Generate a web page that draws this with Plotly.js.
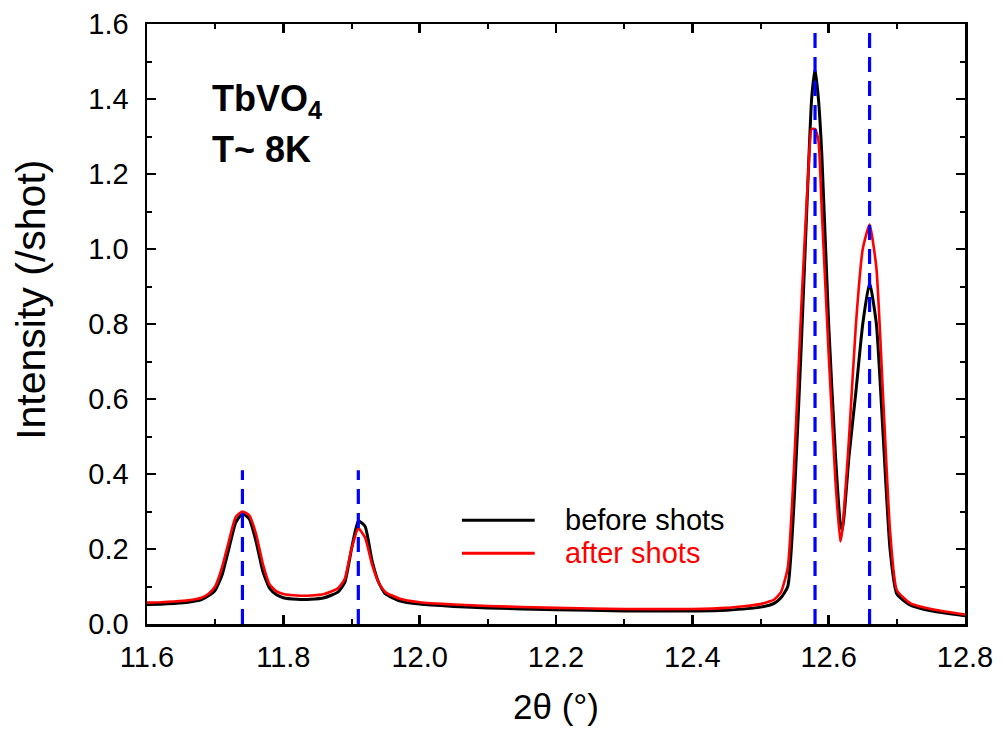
<!DOCTYPE html>
<html>
<head>
<meta charset="utf-8">
<script src="https://cdn.plot.ly/plotly-3.0.1.min.js"></script>
<style>html,body{margin:0;padding:0;background:#fff;}#chart{width:1003px;height:731px;}</style>
</head>
<body>
<div id="chart"></div>
<script>
// 2θ positions (degrees)
const twoTheta = [11.60,11.62,11.64,11.66,11.68,11.69,11.70,11.71,11.72,11.73,11.74,11.75,11.76,11.77,11.78,11.79,11.80,11.82,11.84,11.86,11.88,11.89,11.90,11.91,11.92,11.93,11.94,11.95,11.97,12.00,12.05,12.10,12.20,12.30,12.40,12.45,12.50,12.52,12.53,12.54,12.55,12.56,12.57,12.575,12.58,12.585,12.59,12.60,12.61,12.617,12.62,12.63,12.64,12.65,12.66,12.67,12.68,12.69,12.70,12.72,12.75,12.80];
// Intensity before shots (/shot)
const beforeShots = [0.052,0.053,0.055,0.058,0.065,0.075,0.090,0.130,0.200,0.270,0.295,0.280,0.220,0.140,0.095,0.078,0.070,0.066,0.066,0.070,0.085,0.110,0.200,0.275,0.260,0.170,0.110,0.080,0.062,0.053,0.047,0.043,0.038,0.035,0.035,0.037,0.045,0.055,0.070,0.100,0.350,0.750,1.200,1.400,1.480,1.400,1.250,0.800,0.450,0.270,0.250,0.450,0.620,0.800,0.910,0.800,0.500,0.200,0.080,0.050,0.035,0.022];
// Intensity after shots (/shot)
const afterShots = [0.057,0.058,0.060,0.063,0.070,0.080,0.100,0.150,0.220,0.285,0.300,0.290,0.240,0.160,0.105,0.087,0.080,0.076,0.076,0.080,0.095,0.120,0.200,0.255,0.230,0.160,0.110,0.085,0.068,0.058,0.052,0.048,0.043,0.040,0.040,0.043,0.053,0.065,0.085,0.150,0.450,0.850,1.200,1.320,1.320,1.290,1.100,0.720,0.380,0.220,0.250,0.500,0.800,1.000,1.065,0.950,0.600,0.250,0.090,0.055,0.040,0.025];
// Reference peak positions (blue dashed markers) and their top extents
const peakPositions = [11.74, 11.91, 12.58, 12.66];
const peakTops = [0.41, 0.41, 1.6, 1.6];
const seriesNames = ['before shots', 'after shots'];
const seriesColors = ['#000000', '#ff0000'];

const traces = [
  {x: twoTheta, y: beforeShots, mode: 'lines', name: seriesNames[0], showlegend: false,
   line: {color: seriesColors[0], width: 3, shape: 'spline', smoothing: 0.5}},
  {x: twoTheta, y: afterShots, mode: 'lines', name: seriesNames[1], showlegend: false,
   line: {color: seriesColors[1], width: 2.6, shape: 'spline', smoothing: 0.5}}
];
peakPositions.forEach((p, i) => {
  traces.push({x: [p, p], y: [0, peakTops[i]], mode: 'lines', showlegend: false,
    hoverinfo: 'skip', line: {color: '#0000ff', width: 3.2, dash: '15px,9px'}});
});

const fontFam = 'Arial, "Liberation Sans", sans-serif';
const axisCommon = {
  showline: true, linecolor: '#000', linewidth: 2.5, mirror: 'allticks',
  ticks: 'inside', ticklen: 9, tickwidth: 2.5, tickcolor: '#000',
  showgrid: false, zeroline: false,
  tickfont: {family: fontFam, size: 29, color: '#000'},
  minor: {ticks: 'inside', ticklen: 5, tickwidth: 2, tickcolor: '#000', showgrid: false}
};

// Legend (drawn as key lines + labels in paper space)
const legendX0 = 0.385, legendX1 = 0.474, legendTextX = 0.508;
const legendRowsY = [0.173, 0.118];
const shapes = [], annotations = [];
seriesNames.forEach((n, i) => {
  shapes.push({type: 'line', xref: 'paper', yref: 'paper', x0: legendX0, x1: legendX1,
    y0: legendRowsY[i], y1: legendRowsY[i], line: {color: seriesColors[i], width: 3}});
  annotations.push({xref: 'paper', yref: 'paper', x: legendTextX, y: legendRowsY[i],
    xanchor: 'left', yanchor: 'middle', showarrow: false, text: n,
    font: {family: fontFam, size: 29, color: seriesColors[i]}});
});
annotations.push(
  {xref: 'paper', yref: 'paper', x: 0.077, y: 0.872, xanchor: 'left', yanchor: 'middle', showarrow: false,
   text: '<b>TbVO<sub>4</sub></b>', font: {family: fontFam, size: 36, color: '#000'}},
  {xref: 'paper', yref: 'paper', x: 0.077, y: 0.79, xanchor: 'left', yanchor: 'middle', showarrow: false,
   text: '<b>T~ 8K</b>', font: {family: fontFam, size: 36, color: '#000'}},
  // y-axis title
  {xref: 'paper', yref: 'paper', x: -0.142, y: 0.54, xanchor: 'center', yanchor: 'middle', showarrow: false,
   textangle: -90, text: 'Intensity (/shot)', font: {family: fontFam, size: 41, color: '#000'}}
);

const layout = {
  width: 1003, height: 731,
  margin: {l: 147, r: 38, t: 24, b: 107},
  paper_bgcolor: '#fff', plot_bgcolor: '#fff',
  showlegend: false,
  xaxis: Object.assign({}, axisCommon, {
    range: [11.6, 12.8], dtick: 0.2, tick0: 11.6, tickformat: '.1f', ticklabelstandoff: 6,
    minor: Object.assign({}, axisCommon.minor, {dtick: 0.1}),
    title: {text: '2θ (°)', font: {family: fontFam, size: 35, color: '#000'}, standoff: 22}
  }),
  yaxis: Object.assign({}, axisCommon, {
    range: [0, 1.6], dtick: 0.2, tick0: 0, tickformat: '.1f', ticklabelstandoff: 10,
    minor: Object.assign({}, axisCommon.minor, {dtick: 0.1})
  }),
  shapes: shapes,
  annotations: annotations
};

Plotly.newPlot('chart', traces, layout, {displayModeBar: false, staticPlot: true});
</script>
</body>
</html>
